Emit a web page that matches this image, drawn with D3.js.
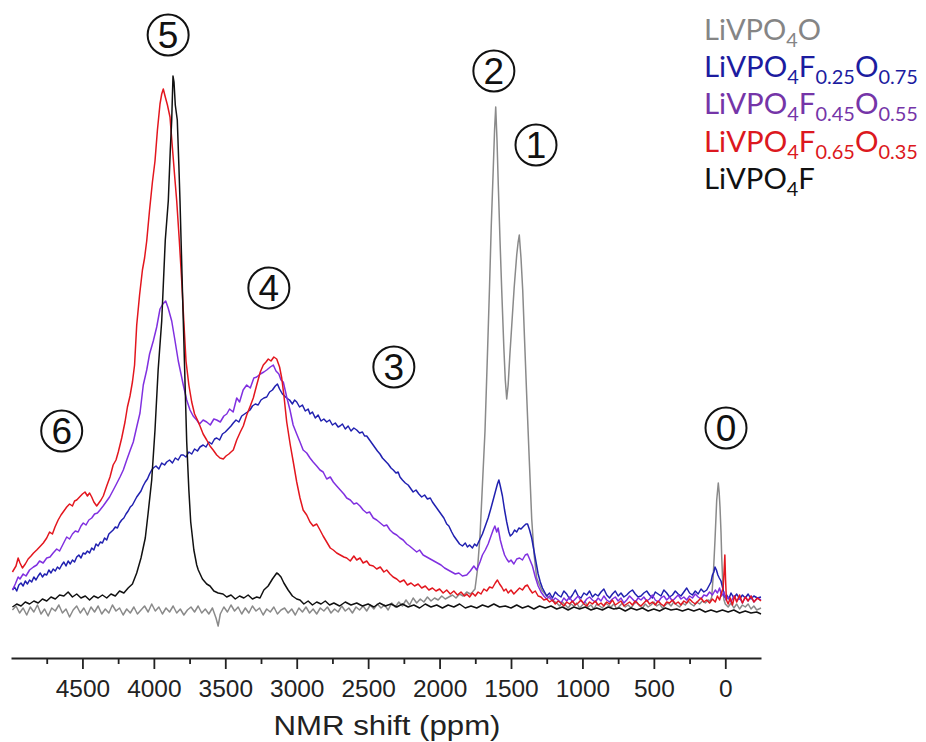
<!DOCTYPE html>
<html>
<head>
<meta charset="utf-8">
<script src="https://cdn.jsdelivr.net/npm/d3@7/dist/d3.min.js"></script>
<style>
  body { margin: 0; background: #fff; }
  svg { display: block; }
</style>
</head>
<body>
<svg id="chart" width="926" height="742"></svg>
<script>
// 7Li NMR spectra: [shift (ppm), intensity (a.u.)]
const specLiVPO4O = [
  [4990,0],[4965,4],[4940,-3],[4915,2],[4890,-5],[4865,3],[4840,-2],[4815,5],[4790,-4],[4765,1],[4740,-6],[4715,2],[4690,-1],[4665,5],[4640,-3],[4615,1],[4590,-7],[4565,0],[4540,4],[4515,-3],[4490,2],[4465,-5],[4440,3],[4415,-2],[4390,4],[4365,-4],[4340,1],[4315,-3],[4290,5],[4265,-1],[4240,2],[4215,-5],[4190,1],[4165,-3],[4140,3],[4115,-4],[4090,0],[4065,4],[4040,-2],[4015,6],[3990,-1],[3965,3],[3940,-4],[3915,2],[3890,-2],[3865,4],[3840,-3],[3815,1],[3790,-5],[3765,0],[3740,3],[3715,-2],[3690,4],[3665,-3],[3640,1],[3615,-4],[3590,2],[3565,-8],[3550,-16],[3535,-4],[3510,3],[3485,-2],[3460,5],[3435,-1],[3410,3],[3385,-4],[3360,2],[3335,-3],[3310,4],[3285,-1],[3260,2],[3235,-5],[3210,1],[3185,-2],[3160,3],[3135,-4],[3110,0],[3085,2],[3060,-3],[3035,1],[3010,-5],[2985,2],[2960,-2],[2935,3],[2910,-3],[2885,1],[2860,-4],[2835,2],[2810,-1],[2785,3],[2760,-3],[2735,1],[2710,-2],[2685,4],[2660,-1],[2635,2],[2610,-3],[2585,3],[2560,0],[2535,4],[2510,-1],[2485,5],[2460,1],[2435,6],[2410,2],[2385,5],[2360,0],[2335,7],[2310,3],[2285,8],[2260,4],[2235,10],[2210,5],[2185,12],[2160,7],[2135,11],[2110,8],[2085,13],[2060,9],[2035,12],[2010,10],[1985,14],[1960,11],[1935,13],[1910,15],[1885,12],[1860,16],[1835,14],[1810,18],[1785,16],[1770,18],[1752,21],[1735,40],[1717,74],[1700,125],[1682,179],[1665,255],[1651,320],[1638,385],[1624,442],[1615,480],[1607,503],[1598,470],[1589,425],[1577,370],[1565,320],[1550,262],[1540,230],[1530,211],[1520,225],[1508,255],[1495,284],[1478,322],[1460,355],[1450,368],[1442,375],[1430,352],[1418,320],[1405,270],[1390,214],[1372,150],[1355,91],[1338,55],[1320,32],[1285,20],[1250,14],[1215,10],[1180,7],[1160,4],[1140,8],[1120,5],[1100,2],[1080,6],[1060,4],[1040,7],[1020,2],[1000,5],[980,8],[960,3],[940,5],[920,1],[900,6],[880,4],[860,2],[840,7],[820,5],[800,3],[780,6],[760,1],[740,4],[720,7],[700,3],[680,5],[660,2],[640,6],[620,8],[600,4],[580,2],[560,6],[540,3],[520,5],[500,8],[480,4],[460,6],[440,2],[420,5],[400,7],[380,4],[360,8],[340,5],[320,3],[300,7],[280,5],[260,9],[240,6],[220,4],[200,8],[180,6],[160,9],[140,7],[120,10],[105,9],[95,13],[84,35],[72,70],[60,110],[49,127],[43,118],[37,103],[30,78],[25,53],[17,25],[9,10],[0,6],[-20,3],[-40,7],[-60,2],[-80,6],[-100,1],[-120,5],[-140,3],[-160,6],[-180,1],[-200,4],[-220,0],[-250,2]
];
const specF025O075 = [
  [4990,20],[4975,23],[4960,19],[4945,25],[4930,27],[4915,24],[4900,29],[4885,26],[4870,30],[4855,28],[4840,33],[4825,30],[4810,34],[4795,37],[4780,33],[4765,36],[4750,35],[4735,40],[4720,37],[4705,41],[4690,39],[4675,43],[4660,41],[4645,45],[4630,48],[4615,44],[4600,49],[4585,46],[4570,50],[4555,48],[4540,53],[4525,55],[4510,52],[4495,57],[4480,56],[4465,59],[4450,57],[4435,62],[4420,60],[4405,66],[4390,64],[4375,68],[4360,67],[4345,72],[4330,70],[4315,76],[4300,78],[4285,80],[4270,83],[4255,82],[4240,87],[4225,90],[4210,92],[4195,96],[4180,99],[4165,103],[4150,105],[4135,109],[4120,113],[4105,116],[4090,119],[4075,124],[4060,128],[4045,131],[4030,136],[4015,140],[4004,142],[3985,144],[3965,141],[3945,147],[3925,145],[3910,148],[3890,150],[3870,147],[3850,152],[3830,150],[3810,155],[3794,155],[3775,153],[3755,158],[3735,156],[3715,161],[3695,159],[3677,163],[3655,165],[3635,163],[3615,168],[3595,166],[3575,171],[3560,172],[3540,170],[3520,176],[3500,178],[3480,181],[3460,184],[3444,187],[3425,190],[3405,188],[3385,194],[3365,196],[3345,198],[3327,200],[3310,204],[3290,206],[3270,205],[3250,210],[3230,212],[3210,213],[3190,218],[3170,220],[3150,224],[3135,226],[3120,221],[3100,216],[3085,214],[3070,212],[3050,210],[3030,206],[3015,210],[3000,208],[2980,203],[2960,205],[2940,199],[2920,201],[2907,196],[2890,198],[2870,192],[2850,195],[2830,189],[2810,191],[2790,188],[2770,190],[2750,185],[2730,187],[2710,183],[2697,184],[2680,186],[2660,181],[2640,184],[2620,179],[2600,182],[2580,180],[2560,177],[2540,178],[2525,174],[2510,174],[2490,170],[2470,166],[2450,162],[2435,159],[2417,156],[2400,152],[2380,149],[2360,146],[2340,142],[2324,140],[2305,137],[2290,138],[2277,133],[2260,130],[2240,127],[2220,125],[2200,121],[2185,118],[2165,120],[2145,116],[2125,113],[2105,115],[2085,111],[2065,112],[2050,108],[2030,104],[2010,100],[1990,96],[1970,92],[1950,86],[1935,84],[1915,78],[1900,74],[1880,70],[1860,66],[1840,64],[1820,67],[1805,63],[1790,65],[1770,62],[1755,66],[1740,64],[1720,70],[1700,76],[1680,84],[1660,92],[1640,102],[1625,110],[1610,118],[1595,126],[1585,130],[1575,124],[1560,114],[1545,100],[1530,88],[1515,78],[1505,74],[1490,76],[1475,80],[1460,78],[1445,82],[1430,81],[1410,84],[1395,86],[1384,86],[1370,80],[1355,72],[1340,60],[1325,48],[1310,36],[1295,28],[1280,22],[1265,18],[1250,14],[1230,17],[1210,12],[1190,18],[1170,15],[1150,13],[1130,19],[1110,16],[1090,11],[1070,15],[1050,20],[1030,14],[1010,12],[990,17],[970,15],[950,19],[930,13],[910,16],[890,14],[870,18],[850,21],[830,15],[810,12],[790,16],[770,19],[750,14],[730,17],[710,13],[690,15],[670,18],[650,20],[630,16],[610,13],[590,14],[570,17],[550,19],[530,15],[510,12],[490,18],[470,16],[450,14],[430,20],[410,17],[390,13],[370,15],[350,19],[330,16],[310,14],[290,18],[270,22],[250,17],[230,15],[210,19],[190,16],[170,21],[150,18],[130,20],[115,24],[100,28],[90,35],[80,38],[72,43],[62,40],[52,35],[42,32],[30,29],[18,22],[5,13],[-10,15],[-25,11],[-40,17],[-60,12],[-80,16],[-100,11],[-120,15],[-140,12],[-160,16],[-180,11],[-200,14],[-225,12],[-250,13]
];
const specF045O055 = [
  [4990,20],[4970,26],[4950,33],[4937,31],[4915,36],[4895,34],[4870,40],[4843,43],[4820,45],[4800,49],[4775,47],[4750,52],[4727,53],[4705,57],[4680,61],[4660,59],[4635,66],[4610,73],[4590,71],[4570,76],[4550,79],[4530,78],[4510,84],[4494,87],[4475,85],[4455,90],[4435,92],[4415,96],[4395,97],[4377,100],[4355,104],[4335,108],[4310,113],[4284,120],[4262,126],[4237,133],[4214,140],[4190,150],[4165,160],[4144,168],[4120,183],[4097,197],[4074,225],[4050,240],[4030,256],[4004,269],[3980,283],[3957,301],[3937,306],[3917,309],[3900,302],[3875,289],[3855,272],[3829,249],[3810,236],[3794,225],[3770,210],[3747,200],[3725,194],[3700,190],[3680,186],[3655,190],[3630,188],[3605,185],[3580,191],[3560,190],[3535,188],[3510,194],[3490,196],[3470,201],[3445,198],[3420,212],[3400,208],[3375,220],[3350,225],[3325,222],[3300,232],[3280,233],[3255,236],[3230,238],[3210,240],[3185,243],[3164,245],[3145,239],[3125,236],[3110,230],[3094,228],[3070,213],[3047,200],[3025,185],[3000,176],[2977,168],[2955,160],[2930,157],[2907,152],[2885,148],[2860,144],[2837,140],[2815,138],[2790,131],[2765,133],[2744,128],[2720,124],[2695,120],[2670,116],[2650,112],[2625,110],[2600,106],[2580,107],[2557,104],[2535,100],[2510,97],[2490,98],[2464,92],[2440,90],[2415,87],[2390,84],[2370,85],[2347,80],[2325,77],[2300,75],[2277,72],[2255,70],[2230,66],[2210,64],[2185,61],[2160,58],[2140,60],[2115,55],[2090,53],[2065,51],[2040,49],[2015,47],[1990,45],[1965,42],[1940,40],[1915,38],[1890,36],[1865,37],[1840,34],[1810,35],[1785,39],[1760,44],[1740,40],[1717,48],[1700,55],[1680,60],[1660,66],[1640,74],[1625,80],[1613,84],[1600,78],[1590,82],[1575,70],[1560,62],[1545,55],[1530,51],[1515,48],[1500,50],[1480,46],[1460,51],[1440,52],[1420,50],[1400,55],[1385,56],[1370,51],[1350,44],[1330,33],[1310,24],[1290,18],[1270,14],[1250,11],[1230,14],[1210,9],[1190,12],[1170,10],[1150,7],[1130,12],[1110,9],[1090,13],[1070,8],[1050,11],[1030,14],[1010,9],[990,7],[970,11],[950,13],[930,10],[910,8],[890,12],[870,9],[850,14],[830,10],[810,8],[790,11],[770,13],[750,9],[730,12],[710,7],[690,10],[670,14],[650,11],[630,8],[610,12],[590,10],[570,13],[550,9],[530,11],[510,15],[490,10],[470,8],[450,12],[430,14],[410,10],[390,13],[370,9],[350,12],[330,15],[310,11],[290,13],[270,10],[250,14],[230,12],[210,16],[190,13],[170,11],[150,15],[130,14],[110,18],[90,15],[70,20],[55,17],[40,22],[25,14],[10,18],[-5,10],[-20,13],[-40,8],[-60,14],[-80,9],[-100,12],[-120,7],[-140,13],[-160,9],[-180,14],[-200,8],[-225,12],[-250,10]
];
const specF065O035 = [
  [4990,38],[4965,44],[4950,52],[4937,47],[4920,42],[4900,46],[4880,51],[4860,54],[4842,57],[4820,60],[4800,63],[4774,67],[4750,72],[4730,78],[4710,76],[4692,83],[4670,90],[4650,95],[4630,99],[4610,103],[4590,106],[4570,104],[4555,109],[4540,110],[4520,113],[4500,116],[4482,118],[4465,114],[4450,117],[4435,113],[4420,108],[4400,104],[4385,107],[4370,110],[4354,114],[4330,124],[4307,133],[4285,145],[4265,150],[4249,158],[4225,172],[4202,188],[4185,203],[4167,214],[4150,228],[4135,245],[4120,285],[4100,315],[4080,340],[4065,352],[4050,369],[4030,400],[4010,428],[3992,449],[3975,480],[3957,506],[3945,516],[3934,521],[3920,513],[3905,505],[3887,493],[3870,462],[3855,435],[3840,409],[3822,370],[3805,329],[3790,288],[3775,249],[3755,225],[3735,208],[3715,196],[3695,190],[3677,184],[3655,176],[3630,170],[3607,164],[3585,160],[3560,155],[3537,152],[3514,151],[3495,154],[3475,156],[3460,158],[3444,160],[3420,170],[3395,178],[3374,184],[3350,195],[3325,204],[3304,212],[3280,225],[3255,238],[3234,245],[3215,248],[3199,251],[3180,249],[3160,253],[3140,251],[3120,243],[3105,232],[3090,215],[3070,188],[3045,165],[3024,148],[3000,128],[2977,112],[2955,100],[2930,95],[2907,88],[2885,84],[2860,86],[2837,80],[2815,74],[2790,68],[2765,62],[2744,60],[2720,57],[2695,55],[2670,53],[2650,52],[2625,49],[2600,54],[2580,50],[2557,52],[2535,47],[2510,49],[2490,45],[2464,44],[2440,41],[2415,43],[2390,38],[2370,40],[2347,36],[2325,33],[2300,31],[2277,28],[2250,30],[2225,25],[2200,27],[2175,24],[2150,26],[2125,22],[2100,24],[2075,20],[2050,22],[2025,19],[2000,21],[1975,17],[1950,20],[1925,16],[1900,19],[1875,15],[1850,18],[1825,14],[1810,16],[1790,13],[1770,17],[1750,14],[1730,18],[1710,16],[1690,21],[1670,19],[1650,23],[1630,22],[1610,27],[1595,30],[1580,26],[1565,23],[1550,19],[1535,21],[1520,17],[1500,20],[1480,16],[1460,19],[1440,22],[1420,20],[1400,24],[1385,25],[1370,21],[1350,17],[1330,19],[1310,14],[1290,13],[1270,10],[1250,11],[1230,8],[1210,10],[1190,6],[1170,9],[1150,7],[1130,4],[1110,8],[1090,6],[1070,9],[1050,5],[1030,7],[1010,10],[990,6],[970,4],[950,8],[930,6],[910,9],[890,5],[870,7],[850,4],[830,8],[810,6],[790,10],[770,5],[750,7],[730,9],[710,4],[690,6],[670,8],[650,5],[630,9],[610,6],[590,4],[570,7],[550,10],[530,6],[510,8],[490,5],[470,9],[450,6],[430,4],[410,8],[390,7],[370,10],[350,6],[330,8],[310,5],[290,9],[270,7],[250,11],[230,8],[210,6],[190,9],[170,12],[150,8],[130,10],[110,7],[90,11],[70,8],[55,14],[40,10],[25,18],[15,22],[8,40],[3,55],[-2,30],[-8,10],[-20,6],[-35,12],[-50,5],[-65,14],[-80,8],[-100,15],[-120,7],[-140,13],[-160,9],[-180,14],[-200,8],[-225,12],[-250,9]
];
const specLiVPO4F = [
  [4990,3],[4960,6],[4930,4],[4900,8],[4870,6],[4840,9],[4810,7],[4780,11],[4750,9],[4720,13],[4690,11],[4660,15],[4630,14],[4600,18],[4570,13],[4540,16],[4510,12],[4480,14],[4450,10],[4420,14],[4390,12],[4360,15],[4330,12],[4300,16],[4270,14],[4240,19],[4210,17],[4180,22],[4150,26],[4120,37],[4090,52],[4060,72],[4040,97],[4015,130],[3992,180],[3970,240],[3945,289],[3920,370],[3899,409],[3885,460],[3875,490],[3866,534],[3859,528],[3850,505],[3836,490],[3825,445],[3817,409],[3794,289],[3770,168],[3755,120],[3742,88],[3720,60],[3700,45],[3689,40],[3660,31],[3630,26],[3607,24],[3580,19],[3550,17],[3516,16],[3490,13],[3460,15],[3430,11],[3400,14],[3370,12],[3340,15],[3310,11],[3280,13],[3257,12],[3230,20],[3200,24],[3170,31],[3140,37],[3129,36],[3110,33],[3090,27],[3060,20],[3030,14],[3000,11],[2977,10],[2950,6],[2920,9],[2890,5],[2860,8],[2830,6],[2800,9],[2770,5],[2740,7],[2700,4],[2660,8],[2620,5],[2580,7],[2540,4],[2500,6],[2460,3],[2420,7],[2380,4],[2340,6],[2300,3],[2260,6],[2220,3],[2180,5],[2140,2],[2100,6],[2060,3],[2020,5],[1980,2],[1940,5],[1900,3],[1860,6],[1820,2],[1780,4],[1740,2],[1700,5],[1660,3],[1620,6],[1580,3],[1540,4],[1500,2],[1460,5],[1420,2],[1380,4],[1340,1],[1300,4],[1260,2],[1220,4],[1180,1],[1140,3],[1100,0],[1060,3],[1020,1],[980,3],[940,0],[900,2],[860,0],[820,3],[780,1],[740,2],[700,-1],[660,2],[620,0],[580,2],[540,-1],[500,1],[460,-1],[420,2],[380,0],[340,1],[300,-1],[260,1],[220,-1],[180,1],[140,-2],[100,0],[60,-2],[20,0],[-20,-2],[-60,0],[-100,-3],[-140,-1],[-180,-3],[-220,-2],[-250,-4]
];

// Axis ticks (ppm)
const majorTicks = [4500, 4000, 3500, 3000, 2500, 2000, 1500, 1000, 500, 0];
const minorTicks = [4750, 4250, 3750, 3250, 2750, 2250, 1750, 1250, 750, 250];

// Legend entries: [text, subscript?]
const legendLabels = [
  [["LiVPO"], ["4", 1], ["O"]],
  [["LiVPO"], ["4", 1], ["F"], ["0.25", 1], ["O"], ["0.75", 1]],
  [["LiVPO"], ["4", 1], ["F"], ["0.45", 1], ["O"], ["0.55", 1]],
  [["LiVPO"], ["4", 1], ["F"], ["0.65", 1], ["O"], ["0.35", 1]],
  [["LiVPO"], ["4", 1], ["F"]]
];

// Site labels: [number, shift (ppm), intensity]
const siteLabels = [
  ["5", 3900, 575], ["2", 1620, 539], ["1", 1325, 465], ["4", 3195, 322],
  ["3", 2320, 243], ["6", 4645, 179], ["0", -5, 182]
];

const series = [
  { data: specLiVPO4O,  line: "#8a8a8a", text: "#858585" },
  { data: specF025O075, line: "#2020b0", text: "#1c1ca0" },
  { data: specF045O055, line: "#8030e0", text: "#7535a8" },
  { data: specF065O035, line: "#e3161e", text: "#dc1820" },
  { data: specLiVPO4F,  line: "#111111", text: "#111111" }
];

const svg = d3.select("#chart");
const x = d3.scaleLinear().domain([5000, -250]).range([11, 761]);
const y = d3.scaleLinear().domain([0, 540]).range([610, 70]);

// Spectra
const line = d3.line().x(d => x(d[0])).y(d => y(d[1]));
svg.append("g").selectAll("path").data(series).join("path")
  .attr("d", s => line(s.data))
  .attr("fill", "none")
  .attr("stroke", s => s.line)
  .attr("stroke-width", 1.5)
  .attr("stroke-linejoin", "round");

// Bottom axis
const axisY = 658;
const gMinor = svg.append("g").attr("transform", `translate(0,${axisY})`)
  .call(d3.axisBottom(x).tickValues(minorTicks).tickSize(6).tickSizeOuter(0).tickFormat(""));
gMinor.select(".domain").remove();
const gAxis = svg.append("g").attr("transform", `translate(0,${axisY})`)
  .call(d3.axisBottom(x).tickValues(majorTicks).tickSize(11).tickSizeOuter(0).tickPadding(12).tickFormat(d3.format("d")));
svg.selectAll(".tick line").attr("stroke", "#222").attr("stroke-width", 1.8);
gAxis.select(".domain").attr("stroke", "#222").attr("stroke-width", 2);
gAxis.selectAll("text")
  .attr("font-family", "'Liberation Sans', Arial, sans-serif")
  .attr("font-size", 23)
  .attr("fill", "#222")
  .attr("textLength", d => String(d).length * 13.6)
  .attr("lengthAdjust", "spacingAndGlyphs");

svg.append("text")
  .attr("x", 387).attr("y", 735)
  .attr("text-anchor", "middle")
  .attr("font-family", "'Liberation Sans', Arial, sans-serif")
  .attr("font-size", 27)
  .attr("fill", "#222")
  .attr("textLength", 227)
  .attr("lengthAdjust", "spacingAndGlyphs")
  .text("NMR shift (ppm)");

// Circled site numbers
const sites = svg.append("g").selectAll("g").data(siteLabels).join("g")
  .attr("transform", d => `translate(${x(d[1])},${y(d[2])})`);
sites.append("circle").attr("r", 20.5).attr("fill", "none").attr("stroke", "#111").attr("stroke-width", 2);
sites.append("text")
  .attr("text-anchor", "middle").attr("dy", "0.36em")
  .attr("font-family", "'Liberation Sans', Arial, sans-serif")
  .attr("font-size", 37)
  .attr("fill", "#111")
  .text(d => d[0]);

// Legend
const legendX = 704, legendY0 = 40, legendStep = 37.2;
const legendWidths = [117, 214, 214, 214, 111];
legendLabels.forEach((parts, i) => {
  const t = svg.append("text")
    .attr("x", 0).attr("y", 0)
    .attr("font-family", "Lato, 'Open Sans', sans-serif")
    .attr("font-size", 28)
    .attr("fill", series[i].text);
  let sub = false;
  parts.forEach(([s, isSub]) => {
    const ts = t.append("tspan").text(s);
    if (isSub && !sub) { ts.attr("dy", 7).attr("font-size", 19); sub = true; }
    else if (isSub) { ts.attr("font-size", 19); }
    else if (!isSub && sub) { ts.attr("dy", -7); sub = false; }
  });
  const w = t.node().getComputedTextLength();
  t.attr("transform", `translate(${legendX},${legendY0 + i * legendStep}) scale(${legendWidths[i] / w},1)`);
});
</script>
</body>
</html>
